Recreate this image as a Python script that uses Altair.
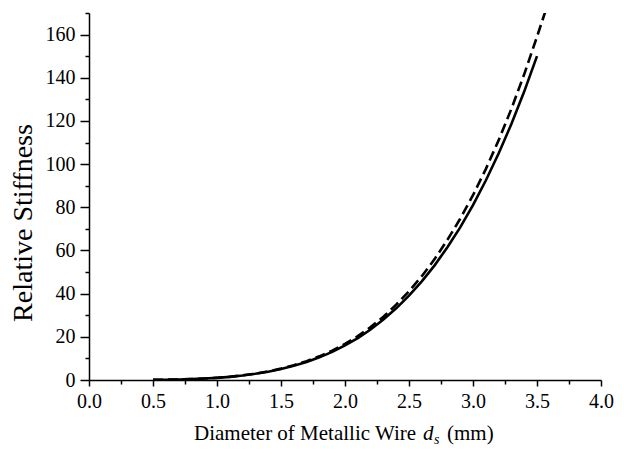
import altair as alt
import pandas as pd

# Diameter of metallic wire (mm)
d_solid = [0.5, 0.6, 0.7, 0.8, 0.9, 1.0, 1.1, 1.2, 1.3, 1.4, 1.5, 1.6, 1.7, 1.8, 1.9,
           2.0, 2.1, 2.2, 2.3, 2.4, 2.5, 2.6, 2.7, 2.8, 2.9, 3.0, 3.1, 3.2, 3.3, 3.4, 3.5]
s_solid = [0.06, 0.13, 0.24, 0.41, 0.66, 1.0, 1.46, 2.07, 2.86, 3.84, 5.06, 6.55, 8.35,
           10.5, 13.0, 16.0, 19.4, 23.4, 28.0, 33.2, 39.1, 45.7, 53.1, 61.5, 70.7, 81.0,
           92.4, 104.9, 118.6, 133.6, 150.0]

d_dash = [0.5, 0.6, 0.7, 0.8, 0.9, 1.0, 1.1, 1.2, 1.3, 1.4, 1.5, 1.6, 1.7, 1.8, 1.9,
          2.0, 2.1, 2.2, 2.3, 2.4, 2.5, 2.6, 2.7, 2.8, 2.9, 3.0, 3.1, 3.2, 3.3, 3.4, 3.5, 3.6]
s_dash = [0.07, 0.14, 0.25, 0.43, 0.69, 1.04, 1.52, 2.15, 2.97, 4.0, 5.27, 6.83, 8.72,
          10.97, 13.6, 16.7, 20.3, 24.5, 29.3, 34.9, 41.1, 48.1, 56.0, 64.9, 74.7, 85.6,
          97.7, 111.0, 125.6, 141.6, 159.0, 177.0]

x_ticks = [i * 0.25 for i in range(17)]
y_ticks = list(range(0, 171, 10))

FONT = "Liberation Serif"

df = pd.concat([
    pd.DataFrame({"d": d_solid, "s": s_solid, "series": "solid"}),
    pd.DataFrame({"d": d_dash, "s": s_dash, "series": "dashed"}),
])

x_axis = alt.Axis(
    values=x_ticks, format=".1f",
    labelExpr="abs(datum.value*2 - round(datum.value*2)) < 0.001 ? datum.label : ''",
    tickSize={"condition": {"test": "abs(datum.value*2 - round(datum.value*2)) < 0.001", "value": 6}, "value": 4},
    labelFlush=False, labelOverlap=False, labelPadding=5,
    labelFontSize=20, labelFont=FONT, labelColor="black",
    title=None, grid=False,
)
y_axis = alt.Axis(
    values=y_ticks, format="d",
    labelExpr="datum.value % 20 === 0 ? datum.label : ''",
    tickSize={"condition": {"test": "datum.value % 20 === 0", "value": 9}, "value": 4},
    labelFlush=False, labelOverlap=False, labelPadding=5,
    labelFontSize=20, labelFont=FONT, labelColor="black",
    title=None, grid=False,
)

x_enc = alt.X("d:Q", scale=alt.Scale(domain=[0, 4], nice=False), axis=x_axis)
y_enc = alt.Y("s:Q", scale=alt.Scale(domain=[0, 170], nice=False), axis=y_axis)

solid = alt.Chart(df[df.series == "solid"]).mark_line(
    color="black", strokeWidth=2.6, clip=True
).encode(x=x_enc, y=y_enc)

dashed = alt.Chart(df[df.series == "dashed"]).mark_line(
    color="black", strokeWidth=2.6, strokeDash=[10, 5], clip=True
).encode(x=x_enc, y=y_enc)


def label(txt, x, y, size=21, style="normal", angle=0, align="left"):
    return alt.Chart(pd.DataFrame({"t": [txt]})).mark_text(
        text=txt, font=FONT, fontSize=size, fontStyle=style, color="black",
        align=align, baseline="alphabetic", angle=angle
    ).encode(x=alt.value(x), y=alt.value(y))


xt1 = label("Diameter of Metallic Wire", 105, 427)
xt2 = label("d", 334, 427, style="italic")
xt3 = label("s", 345, 431, size=14, style="italic")
xt4 = label("(mm)", 358, 427)
yt = label("Relative Stiffness", -57, 210, size=28, angle=270, align="center")

chart = alt.layer(solid, dashed, xt1, xt2, xt3, xt4, yt).properties(
    width=512, height=367,
    autosize=alt.AutoSizeParams(type="none"),
    padding={"left": 81, "top": 5, "right": 15, "bottom": 66},
).configure_view(stroke=None).configure_axis(
    domainColor="black", domainWidth=1.5, tickColor="black", tickWidth=1.5,
)

chart.save("out.html", embed_options={"renderer": "svg", "actions": False})
